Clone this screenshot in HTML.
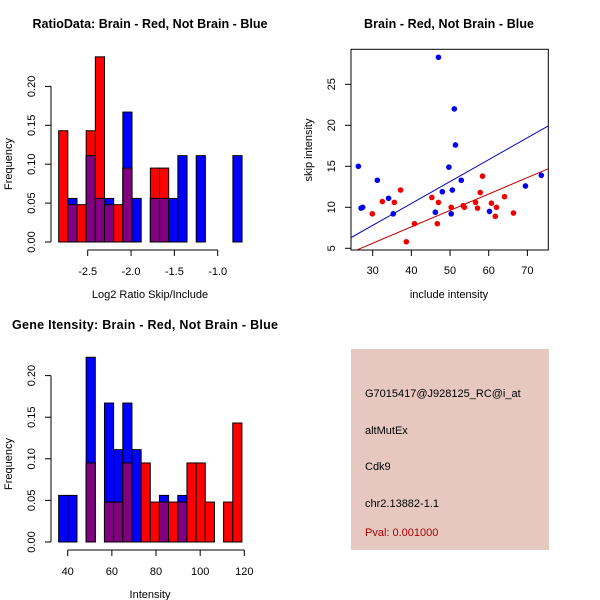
<!DOCTYPE html>
<html><head><meta charset="utf-8"><style>
body{margin:0;background:#fff}
svg{display:block;font-family:"Liberation Sans",sans-serif}
</style></head><body>
<svg id="s" width="600" height="600" viewBox="0 0 600 600">
<rect width="600" height="600" fill="#fff"/>
<text x="150" y="28" text-anchor="middle" font-size="12.5" font-weight="bold" textLength="235">RatioData: Brain - Red, Not Brain - Blue</text>
<text x="150" y="298" text-anchor="middle" font-size="11">Log2 Ratio Skip/Include</text>
<text transform="translate(12,164) rotate(-90)" text-anchor="middle" font-size="11">Frequency</text>
<text x="449" y="28" text-anchor="middle" font-size="12.5" font-weight="bold" textLength="170">Brain - Red, Not Brain - Blue</text>
<text x="449" y="298" text-anchor="middle" font-size="11">include intensity</text>
<text transform="translate(312,150) rotate(-90)" text-anchor="middle" font-size="11">skip intensity</text>
<text x="145" y="329" text-anchor="middle" font-size="12.5" font-weight="bold" textLength="266">Gene Itensity: Brain - Red, Not Brain - Blue</text>
<text x="150" y="598" text-anchor="middle" font-size="11">Intensity</text>
<text transform="translate(12,464) rotate(-90)" text-anchor="middle" font-size="11">Frequency</text>
<g>
<rect x="351" y="349" width="198" height="201" fill="#e6c8c0"/>
<text x="365" y="397" font-size="11">G7015417@J928125_RC@i_at</text>
<text x="365" y="434" font-size="11">altMutEx</text>
<text x="365" y="470" font-size="11">Cdk9</text>
<text x="365" y="507" font-size="11">chr2.13882-1.1</text>
<text x="365" y="536" font-size="11" fill="#b00000">Pval: 0.001000</text>
</g>
</svg>
<script>
// Ratio histogram
const ratioRed=[0.143,0.048,0.048,0.143,0.238,0.048,0.048,0.095,0,0,0.095,0.095,0,0,0,0,0,0,0,0];
const ratioBlue=[0,0.056,0,0.111,0.056,0.056,0,0.167,0.056,0,0.056,0.056,0.056,0.111,0,0.111,0,0,0,0.111];
const ratioStart=-2.835, ratioBinW=0.1058;
const ratioXTicks=[-2.5,-2.0,-1.5,-1.0];
const ratioXTickLabels=["-2.5","-2.0","-1.5","-1.0"];
const ratioYTicks=[0,0.05,0.10,0.15,0.20];
const ratioYTickLabels=["0.00","0.05","0.10","0.15","0.20"];
// Intensity histogram
const intRed=[0,0,0,0.095,0,0.048,0.048,0.095,0,0.095,0.048,0.048,0.048,0.048,0.095,0.095,0.048,0,0.048,0.143];
const intBlue=[0.056,0.056,0,0.222,0,0.167,0.111,0.167,0.111,0,0,0.056,0,0.056,0,0,0,0,0,0];
const intStart=35.9, intBinW=4.15;
const intXTicks=[40,60,80,100,120];
const intXTickLabels=["40","60","80","100","120"];
const intYTicks=[0,0.05,0.10,0.15,0.20];
const intYTickLabels=["0.00","0.05","0.10","0.15","0.20"];
// Scatter
const blueX=[26.3,27.0,27.4,31.2,34.1,35.3,47.0,46.2,48.0,49.7,50.6,50.3,51.1,51.4,52.9,60.2,69.5,73.6];
const blueY=[15.0,9.9,10.0,13.3,11.1,9.2,28.3,9.4,11.9,14.9,12.1,9.2,22.0,17.6,13.3,9.5,12.6,13.9];
const redX=[29.9,32.5,35.6,37.2,38.7,40.8,45.3,47.0,46.7,50.3,53.4,53.7,56.6,57.1,57.8,58.4,60.7,61.7,62.0,64.1,66.4];
const redY=[9.2,10.7,10.6,12.1,5.8,8.0,11.2,10.6,8.0,10.0,10.2,10.0,10.6,9.9,11.8,13.8,10.5,8.9,10.0,11.3,9.3];
const blueFit=[-0.21,0.267];
const redFit=[-0.38,0.2];
const scXTicks=[30,40,50,60,70];
const scYTicks=[5,10,15,20,25];

const NS="http://www.w3.org/2000/svg";
const svg=document.getElementById('s');
function mk(tag,attrs,parent){const e=document.createElementNS(NS,tag);for(const k in attrs)e.setAttribute(k,attrs[k]);(parent||svg).appendChild(e);return e;}

function hist(pfx,red,blue,start,bw,xs,ys,xTicks,xLab,yTicks,yLab){
  const g=mk('g',{});
  
  
  const y0=ys(0);
  for(let i=0;i<red.length;i++){
    const xl=xs(start+i*bw), xr=xs(start+(i+1)*bw);
    const items=[[red[i],'#ff0000','red'],[blue[i],'#0000ff','blue'],[Math.min(red[i],blue[i]),'#800080','overlap']];
    for(const [v,c,n] of items){
      if(v<=0) continue;
      const r=mk('rect',{x:xl,y:ys(v),width:xr-xl,height:y0-ys(v),fill:c,stroke:'#000','stroke-width':1},g);
      
      
    }
  }
  const ya=mk('g',{},g);
  
  
  mk('line',{x1:51,x2:51,y1:ys(yTicks[0]),y2:ys(yTicks[yTicks.length-1]),stroke:'#000'},ya);
  yTicks.forEach((t,i)=>{const y=ys(t);mk('line',{x1:45,x2:51,y1:y,y2:y,stroke:'#000'},ya);
    const tx=mk('text',{transform:`translate(35,${y}) rotate(-90)`,'text-anchor':'middle','font-size':11},ya);tx.textContent=yLab[i];
    
    });
  const xa=mk('g',{},g);
  
  
  const ay=y0+8;
  mk('line',{x1:xs(xTicks[0]),x2:xs(xTicks[xTicks.length-1]),y1:ay,y2:ay,stroke:'#000'},xa);
  xTicks.forEach((t,i)=>{const x=xs(t);mk('line',{x1:x,x2:x,y1:ay,y2:ay+6,stroke:'#000'},xa);
    const tx=mk('text',{x:x,y:ay+25,'text-anchor':'middle','font-size':11},xa);tx.textContent=xLab[i];
    
    });
}
hist('ratio',ratioRed,ratioBlue,ratioStart,ratioBinW,
  v=>87.7+(v+2.5)*86.67, v=>242-v*778, ratioXTicks,ratioXTickLabels,ratioYTicks,ratioYTickLabels);
hist('intensity',intRed,intBlue,intStart,intBinW,
  v=>67.7+(v-40)*2.208, v=>542-v*832, intXTicks,intXTickLabels,intYTicks,intYTickLabels);

const sx=v=>372.7+(v-30)*3.867, sy=v=>248.3-(v-5)*8.2;
const sg=mk('g',{});


const cp=mk('clipPath',{id:'cp'},sg);mk('rect',{x:351,y:49,width:197,height:201},cp);
const fr=mk('rect',{x:351,y:49.3,width:197.3,height:200.7,fill:'none',stroke:'#000'},sg);


[[blueFit,'#0000c0','blue-fit-line'],[redFit,'#c00000','red-fit-line']].forEach(([f,c,n])=>{
  const x1=20,x2=80;
  const l=mk('line',{x1:sx(x1),x2:sx(x2),y1:sy(f[0]+f[1]*x1),y2:sy(f[0]+f[1]*x2),stroke:c,'clip-path':'url(#cp)'},sg);
  
  
});
blueX.forEach((x,i)=>{const c=mk('circle',{cx:sx(x),cy:sy(blueY[i]),r:2.8,fill:'#0000ee'},sg);
  
  });
redX.forEach((x,i)=>{const c=mk('circle',{cx:sx(x),cy:sy(redY[i]),r:2.8,fill:'#ee0000'},sg);
  
  });
scXTicks.forEach(t=>{const x=sx(t);mk('line',{x1:x,x2:x,y1:250,y2:256,stroke:'#000'},sg);
  const tx=mk('text',{x:x,y:274,'text-anchor':'middle','font-size':11},sg);tx.textContent=t;
  
  });
scYTicks.forEach(t=>{const y=sy(t);mk('line',{x1:345,x2:351,y1:y,y2:y,stroke:'#000'},sg);
  const tx=mk('text',{transform:`translate(335,${y}) rotate(-90)`,'text-anchor':'middle','font-size':11},sg);tx.textContent=t;
  
  });
</script>
</body></html>
